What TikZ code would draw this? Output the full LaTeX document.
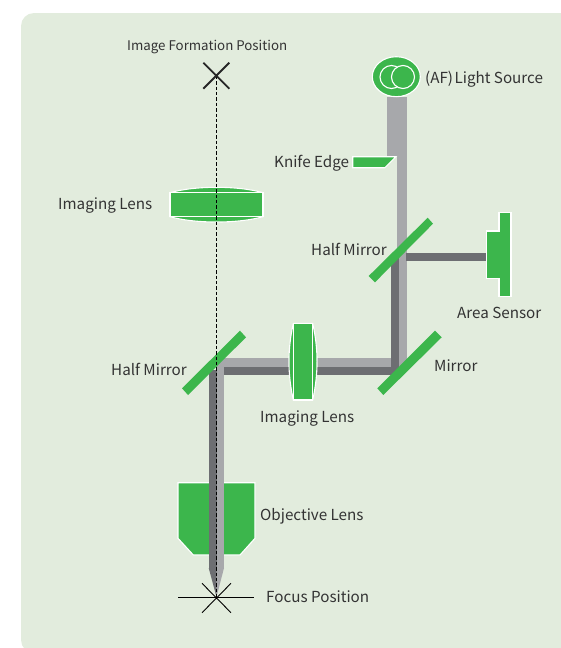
\documentclass[tikz,border=0pt]{standalone}
\usepackage{fontspec}
\usetikzlibrary{shapes.geometric}
\setmainfont{Noto Sans CJK JP}
\definecolor{panelbg}{HTML}{E2ECDD}
\definecolor{optgreen}{HTML}{3CB64C}
\definecolor{beamlight}{HTML}{A7A8AB}
\definecolor{beamdark}{HTML}{6D6E72}
\definecolor{labeltext}{HTML}{333333}
\tikzset{
  lab/.style={text=labeltext,font=\fontsize{15.2}{16}\selectfont,inner sep=0pt,anchor=west,yshift=-1.6pt},
  optic/.style={fill=optgreen,draw=white,line width=1.1pt,line join=miter},
  mirrorbar/.style={fill=optgreen,draw=none},
  beaml/.style={fill=beamlight,draw=none},
  beamd/.style={fill=beamdark,draw=none},
}
\begin{document}
\begin{tikzpicture}[x=1pt,y=-1pt]
\useasboundingbox (0,0) rectangle (560,648);
% panel
\fill[panelbg,rounded corners=13pt] (590,13) -- (21,13) -- (21,653) -- (590,653) -- cycle;
% beams
\fill[beaml] (387,97) rectangle (406.5,157);
\fill[beaml] (397,157) rectangle (406.5,260);
\fill[beaml] (399,260) rectangle (406.5,366);
\fill[beaml] (218,358) rectangle (399,367);
\fill[beaml] (216.3,358) rectangle (224,568);
\fill[beamd] (391,258) rectangle (399,375);
\fill[beamd] (224,367) rectangle (399,375);
\fill[beamd] (406,253) rectangle (487,260.5);
% objective
\draw[optic] (178,482.7) -- (255,482.7) -- (255,538.3) -- (240,555) -- (193.3,555) -- (178,538.3) -- cycle;
\fill[beaml] (216.3,475) rectangle (224,568);
\fill[beaml] (216.3,568) -- (224,568) -- (216.5,597) -- cycle;
\fill[beamd] (208.7,370) rectangle (216.5,568);
\fill[beamd] (208.7,568) -- (216.5,568) -- (216.5,597) -- cycle;
% mirrors
\fill[mirrorbar] (427.7,217.7) -- (433,223.7) -- (375,282.3) -- (368.7,276) -- cycle;
\fill[mirrorbar] (435,330.7) -- (441.7,337.3) -- (383.3,395) -- (377.3,388.3) -- cycle;
\fill[mirrorbar] (240,330.7) -- (246,337.3) -- (188,395) -- (182,388.3) -- cycle;
% knife edge
\draw[optic] (352.7,156.7) -- (396,156.7) -- (385,167.7) -- (352.7,167.7) -- cycle;
% area sensor
\draw[optic] (486.7,231) -- (499,231) -- (499,212.7) -- (511,212.7) -- (511,296.7) -- (499,296.7) -- (499,278.7) -- (486.7,278.7) -- cycle;
% light source
\node[ellipse,draw=white,fill=optgreen,line width=1.1pt,minimum width=48pt,minimum height=40pt,inner sep=0pt] (src) at (396.3,76.7) {};
\draw[white,line width=1.1pt] (391.5,77) circle[radius=11.5];
\draw[white,fill=optgreen,line width=1.1pt] (403,77) circle[radius=11.5];
% imaging lens (horizontal path)
\draw[optic] (293.3,323.3) .. controls (287.5,350) and (287.5,373) .. (293.3,400) -- (312.7,400) .. controls (318.5,373) and (318.5,350) .. (312.7,323.3) -- cycle;
\draw[optic] (293.3,323.3) rectangle (312.7,400);
% imaging lens (vertical path)
\draw[optic] (170,192.7) .. controls (195,185.5) and (238,185.5) .. (263,192.7) -- (263,216.7) .. controls (238,223.8) and (195,223.8) .. (170,216.7) -- cycle;
\draw[optic] (170,192.7) rectangle (263,216.7);
% marks
\coordinate (imgpos) at (216.5,75.7);
\coordinate (focus) at (216.5,597.7);
\draw[black,line width=1pt,dash pattern=on 3.4pt off 2pt] (imgpos) -- (focus);
\draw[black!85,line width=1.8pt] (203.3,62.7) -- (229.3,88.7) (229.3,62.7) -- (203.3,88.7);
\draw[black,line width=1.4pt] (178,597.7) -- (254,597.7);
\draw[black,line width=0.9pt] (202,583.3) -- (231,612.7) (231,583.3) -- (202,612.7);
% labels
\node[lab,font=\fontsize{13.3}{15}\selectfont] (l1) at (127,45) {Image Formation Position};
\node[lab] (l2) at (425,77.5) {(AF)\hspace{1.5pt}Light Source};
\node[lab] (l3) at (274,162) {Knife Edge};
\node[lab] (l4) at (58,204) {Imaging Lens};
\node[lab] (l5) at (311,248) {Half Mirror};
\node[lab] (l6) at (457,311.5) {Area Sensor};
\node[lab] (l7) at (111,368) {Half Mirror};
\node[lab] (l8) at (434,364.5) {Mirror};
\node[lab] (l9) at (260,417) {Imaging Lens};
\node[lab] (l10) at (260,515) {Objective Lens};
\node[lab] (l11) at (266,595) {Focus Position};
\end{tikzpicture}
\end{document}
